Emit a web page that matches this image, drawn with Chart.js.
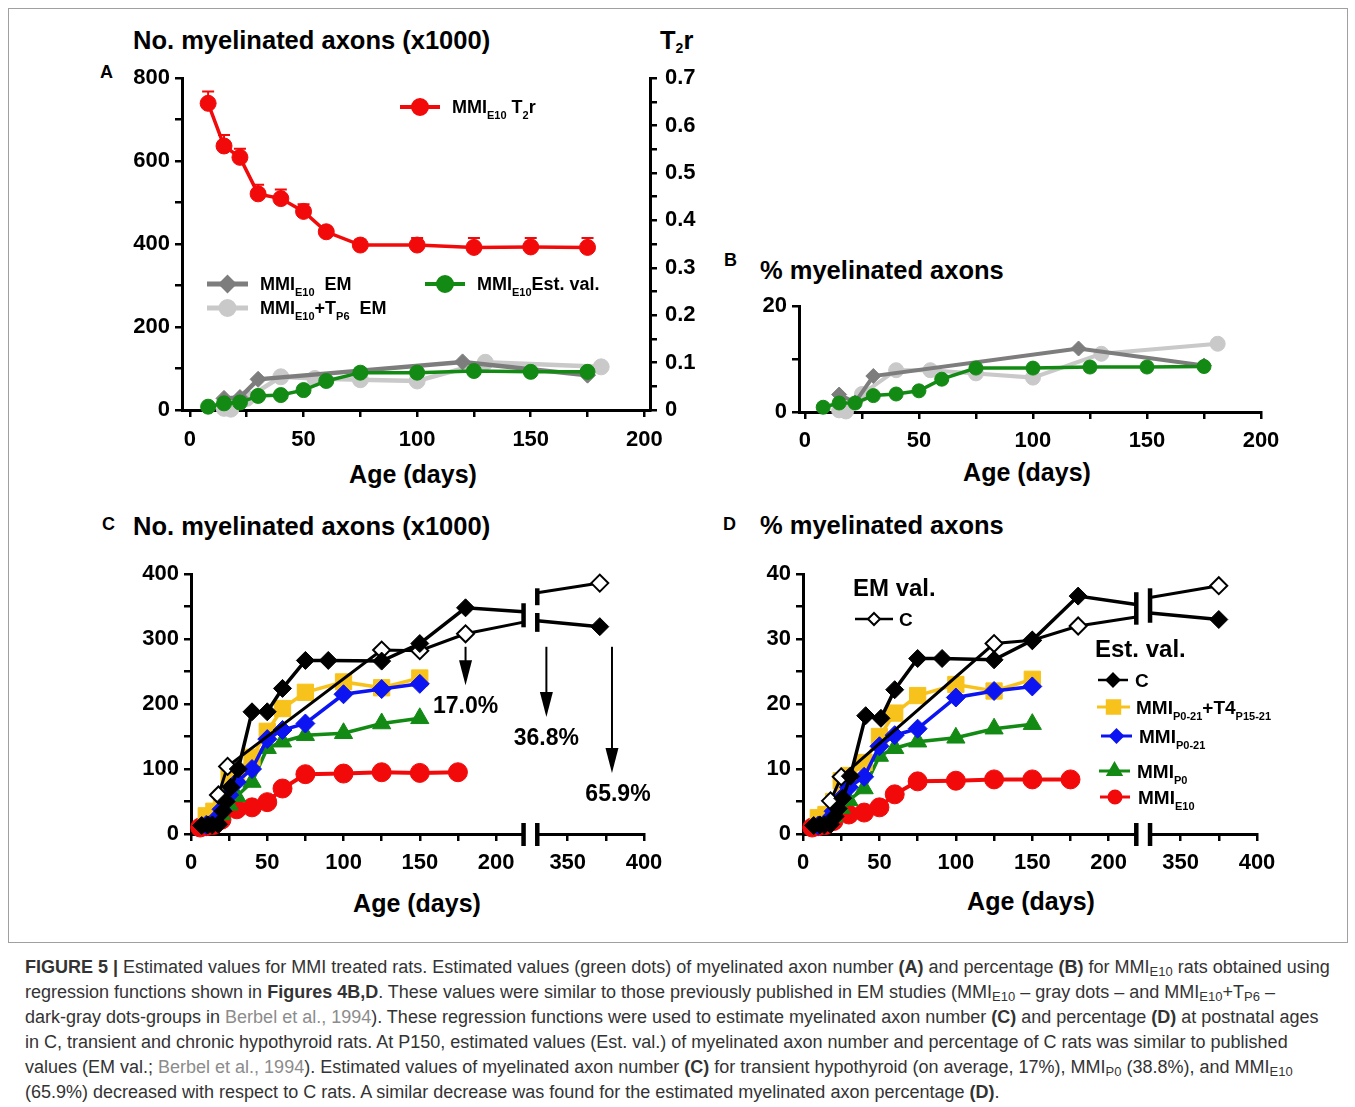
<!DOCTYPE html>
<html>
<head>
<meta charset="utf-8">
<script src="https://cdn.jsdelivr.net/npm/chart.js@4.4.1/dist/chart.umd.min.js"></script>
<style>
  body { margin: 0; background: #fff; width: 1355px; height: 1107px; position: relative; overflow: hidden;
         font-family: "Liberation Sans", Arial, Helvetica, sans-serif; color: #000; }
  .frame { position: absolute; left: 8px; top: 8px; width: 1338px; height: 933px; border: 1px solid #a0a0a0; }
  canvas { position: absolute; }
  .t { position: absolute; font-weight: bold; white-space: nowrap; }
  .ttl { font-size: 25.5px; line-height: 28px; }
  .ttl sub { font-size: 14px; vertical-align: -4px; line-height: 0; }
  .let { font-size: 18px; line-height: 20px; }
  .ax { font-size: 25px; line-height: 28px; width: 240px; text-align: center; }
  .cap { position: absolute; left: 25px; top: 955px; font-size: 18px; line-height: 25px; color: #333; white-space: nowrap; }
  .cap sub { font-size: 13px; vertical-align: -3px; line-height: 0; }
  .cap .g { color: #8c8c8c; }
</style>
</head>
<body>
<div class="frame"></div>

<div class="t let" style="left:100px;top:62px">A</div>
<div class="t ttl" style="left:133px;top:26px">No. myelinated axons (x1000)</div>
<div class="t ttl" style="left:660px;top:26px">T<sub>2</sub>r</div>
<div class="t ax" style="left:293px;top:460px">Age (days)</div>

<div class="t let" style="left:724px;top:250px">B</div>
<div class="t ttl" style="left:760px;top:256px">% myelinated axons</div>
<div class="t ax" style="left:907px;top:458px">Age (days)</div>

<div class="t let" style="left:102px;top:514px">C</div>
<div class="t ttl" style="left:133px;top:512px">No. myelinated axons (x1000)</div>
<div class="t ax" style="left:297px;top:889px">Age (days)</div>

<div class="t let" style="left:723px;top:514px">D</div>
<div class="t ttl" style="left:760px;top:511px">% myelinated axons</div>
<div class="t ax" style="left:911px;top:887px">Age (days)</div>

<canvas id="cA" width="620" height="443" style="left:100px;top:57px"></canvas>
<canvas id="cB" width="600" height="212" style="left:720px;top:288px"></canvas>
<canvas id="cC" width="600" height="360" style="left:100px;top:555px"></canvas>
<canvas id="cD" width="620" height="360" style="left:712px;top:555px"></canvas>

<div class="cap">
<div><b>FIGURE 5 |</b> Estimated values for MMI treated rats. Estimated values (green dots) of myelinated axon number <b>(A)</b> and percentage <b>(B)</b> for MMI<sub>E10</sub> rats obtained using</div>
<div>regression functions shown in <b>Figures 4B,D</b>. These values were similar to those previously published in EM studies (MMI<sub>E10</sub> – gray dots – and MMI<sub>E10</sub>+T<sub>P6</sub> –</div>
<div>dark-gray dots-groups in <span class="g">Berbel et al., 1994</span>). These regression functions were used to estimate myelinated axon number <b>(C)</b> and percentage <b>(D)</b> at postnatal ages</div>
<div>in C, transient and chronic hypothyroid rats. At P150, estimated values (Est. val.) of myelinated axon number and percentage of C rats was similar to published</div>
<div>values (EM val.; <span class="g">Berbel et al., 1994</span>). Estimated values of myelinated axon number <b>(C)</b> for transient hypothyroid (on average, 17%), MMI<sub>P0</sub> (38.8%), and MMI<sub>E10</sub></div>
<div>(65.9%) decreased with respect to C rats. A similar decrease was found for the estimated myelinated axon percentage <b>(D)</b>.</div>
</div>

<script>
// ---------- panel A : number of myelinated axons (x1000) and T2r ----------
const ageT2r = [8, 15, 22, 30, 40, 50, 60, 75, 100, 125, 150, 175];
const t2rE10 = [0.647, 0.557, 0.533, 0.456, 0.446, 0.419, 0.376, 0.348, 0.348, 0.343, 0.344, 0.343];
const t2rErr = [0.025, 0.023, 0.018, 0.019, 0.019, 0.015, 0.008, 0.011, 0.015, 0.02, 0.019, 0.02];

const ageEst = [8, 15, 22, 30, 40, 50, 60, 75, 100, 125, 150, 175];
const axonsEstE10 = [8, 16, 18, 34, 36, 48, 70, 90, 90, 94, 92, 92];

const ageEmE10 = [15, 22, 30, 120, 175];
const axonsEmE10 = [28, 30, 74, 116, 84];
const ageEmE10T = [15, 18, 25, 40, 55, 75, 100, 130, 181];
const axonsEmE10T = [4, 2, 28, 80, 76, 73, 70, 115, 104];

// ---------- panel B : % myelinated axons ----------
const pctEstE10 = [0.9, 1.7, 1.7, 3.1, 3.4, 4.0, 6.2, 8.3, 8.3, 8.5, 8.5, 8.6];
const pctEmE10 = [3.3, 1.8, 6.8, 12, 8.8];
const pctEmE10T = [0.3, 0.1, 3.4, 7.9, 7.9, 7.3, 6.5, 11, 12.9];

// ---------- panels C and D (broken age axis) ----------
const BREAK_LO = 218, BREAK_HI = 330, SHIFT = 103;
const toAxis = (a) => (a > BREAK_LO ? a - SHIFT : a);
const fromAxis = (v) => Math.round(v > BREAK_LO ? v + SHIFT : v);
const tickAgesCD = [0, 25, 50, 75, 100, 125, 150, 175, 200, 350, 375, 400];

// C est. val. (filled) and EM val. (open); the BREAK ages are where lines meet the break marks
const ageCtrlEstC = [7, 11, 14, 18, 21, 23, 26, 31, 40, 50, 60, 75, 90, 125, 150, 180, BREAK_LO, 224, BREAK_HI, 371];
const axonsCtrlEst = [13, 14, 14, 15, 35, 50, 72, 100, 188, 188, 224, 267, 267, 266, 293, 348, 342, null, 328, 319];
const ageCtrlEmC = [18, 24, 125, 150, 180, BREAK_LO, 224, BREAK_HI, 371];
const axonsCtrlEm = [60, 104, 283, 282, 308, 326, null, 371, 386];

const ageTreat = [10, 15, 20, 25, 30, 40, 50, 60, 75, 100, 125, 150];
const axonsP021T4 = [28, 35, 55, 88, 95, 118, 158, 193, 218, 234, 225, 240];
const axonsP021 = [14, 20, 38, 60, 80, 100, 146, 160, 170, 215, 223, 231];
const axonsP0 = [14, 20, 30, 45, 58, 80, 132, 142, 152, 155, 170, 178];
const ageE10CD = [6, 10, 15, 20, 30, 40, 50, 60, 75, 100, 125, 150, 175];
const axonsE10 = [10, 12, 14, 22, 38, 41, 49, 70, 92, 93, 95, 94, 95];

const ageCtrlEstD = [7, 11, 14, 18, 21, 23, 26, 31, 41, 51, 60, 75, 91, 125, 150, 180, BREAK_LO, 224, BREAK_HI, 375];
const pctCtrlEst = [1.3, 1.4, 1.4, 1.5, 2.7, 3.9, 5.5, 8.9, 18.2, 17.8, 22.2, 27, 27, 26.8, 29.8, 36.6, 35.3, null, 34.0, 33];
const ageCtrlEmD = [18, 25, 125, 150, 180, BREAK_LO, 224, BREAK_HI, 375];
const pctCtrlEm = [5.1, 8.8, 29.3, 29.8, 32, 33.4, null, 36.4, 38.2];
const pctP021T4 = [2.5, 3, 5, 8.2, 9, 11, 15, 18.6, 21.3, 23, 22, 23.8];
const pctP021 = [1.3, 1.8, 3.5, 5.5, 7.2, 8.8, 13.5, 15.2, 16.2, 21, 22, 22.7];
const pctP0 = [1.3, 1.8, 2.7, 4.0, 5.2, 7, 12, 13.2, 14.2, 14.8, 16.2, 16.9];
const pctE10 = [1.0, 1.2, 1.4, 2.0, 3.0, 3.3, 4.1, 6.1, 8.1, 8.2, 8.4, 8.4, 8.4];

// arrows and % decrease in C
const arrowsC = [{ age: 180, from: 288, to: 229 }, { age: 336, from: 288, to: 180 }, { age: 379, from: 288, to: 94 }];
const pctLabelsC = ["17.0%", "36.8%", "65.9%"];
const breaksC = [{ age: BREAK_LO, lo: 318, hi: 355 }, { age: BREAK_HI, lo: 352, hi: 378 }, { age: BREAK_HI, lo: 311, hi: 340 }];
const breaksD = [{ age: BREAK_LO, lo: 32.2, hi: 37.2 }, { age: BREAK_HI, lo: 32.5, hi: 37.8 }];

// ---------- look ----------
const FONT = '"Liberation Sans", Arial, Helvetica, sans-serif';
const RED = "#f20a0a", GREEN = "#138a13", DGRAY = "#7d7d7d", LGRAY = "#c9c9c9";
const YELLOW = "#f8c21c", BLUE = "#0c14f2", BLACK = "#000";
const tickFont = { family: FONT, size: 22, weight: "bold" };
const axisGrid = { drawOnChartArea: false, color: "#000", lineWidth: 2.5, tickLength: 7, tickWidth: 2.5 };
const axisBorder = { color: "#000", width: 3 };

const pts = (ages, vals, conv = (a) => a) => ages.map((a, i) => ({ x: conv(a), y: vals[i], age: a }));
const ticksAt = (values) => (s) => { s.ticks = values.map((v) => ({ value: v })); };
const range = (a, b, step) => { const r = []; for (let v = a; v <= b + 1e-9; v += step) r.push(v); return r; };

const axis = (extra, tickCb, pad) => Object.assign({
  type: "linear",
  grid: axisGrid,
  border: axisBorder,
  ticks: { font: tickFont, color: "#000", padding: pad, autoSkip: false, maxRotation: 0, callback: tickCb }
}, extra);

const series = (data, color, style, r, extra) => Object.assign({
  data: data,
  borderColor: color,
  backgroundColor: color,
  pointBackgroundColor: color,
  pointBorderColor: color,
  pointStyle: style,
  pointRadius: (c) => (c.raw && (c.raw.age === BREAK_LO || c.raw.age === BREAK_HI) ? 0 : r),
  pointBorderWidth: 1,
  borderWidth: 3.5,
  tension: 0,
  spanGaps: false,
  clip: false
}, extra);

const baseOptions = (padding, scales, plugins) => ({
  responsive: false,
  animation: false,
  events: [],
  layout: { padding: padding },
  plugins: Object.assign({ legend: { display: false }, tooltip: { enabled: false } }, plugins || {}),
  scales: scales
});

function marker(ctx, style, x, y, r, fill, stroke) {
  ctx.beginPath();
  if (style === "circle") {
    ctx.arc(x, y, r, 0, Math.PI * 2);
  } else if (style === "rectRot") {
    ctx.moveTo(x, y - r); ctx.lineTo(x + r, y); ctx.lineTo(x, y + r); ctx.lineTo(x - r, y); ctx.closePath();
  } else if (style === "rect") {
    const s = r * Math.SQRT1_2;
    ctx.rect(x - s, y - s, 2 * s, 2 * s);
  } else if (style === "triangle") {
    ctx.moveTo(x, y - r); ctx.lineTo(x + r * 0.87, y + r * 0.5); ctx.lineTo(x - r * 0.87, y + r * 0.5); ctx.closePath();
  }
  ctx.fillStyle = fill; ctx.fill();
  ctx.lineWidth = 2; ctx.strokeStyle = stroke; ctx.stroke();
}

function richText(ctx, x, y, parts, size, sub) {
  ctx.textAlign = "left"; ctx.textBaseline = "alphabetic"; ctx.fillStyle = "#000";
  parts.forEach(([t, isSub]) => {
    ctx.font = "bold " + (isSub ? sub : size) + "px " + FONT;
    ctx.fillText(t, x, isSub ? y + size * 0.3 : y);
    x += ctx.measureText(t).width;
  });
}

// legend drawn on the canvas; items are in page pixels, ox/oy = canvas origin
const legendPlugin = (ox, oy, items, heads) => ({
  id: "lg",
  afterDraw(chart) {
    const ctx = chart.ctx;
    ctx.save();
    ctx.translate(-ox, -oy);
    items.forEach((it) => {
      ctx.strokeStyle = it.color; ctx.lineWidth = it.lw;
      ctx.beginPath(); ctx.moveTo(it.x0, it.y); ctx.lineTo(it.x1, it.y); ctx.stroke();
      marker(ctx, it.style, (it.x0 + it.x1) / 2, it.y, it.r, it.fill || it.color, it.color);
      richText(ctx, it.tx, it.y + it.size * 0.36, it.parts, it.size, it.sub);
    });
    (heads || []).forEach((h) => {
      ctx.font = "bold " + h.size + "px " + FONT; ctx.fillStyle = "#000";
      ctx.textAlign = "left"; ctx.textBaseline = "middle";
      ctx.fillText(h.text, h.x, h.y);
    });
    ctx.restore();
  }
});

const errPlugin = {
  id: "err",
  beforeDatasetsDraw(chart) {
    const { ctx, scales } = chart;
    ctx.save(); ctx.strokeStyle = RED; ctx.lineWidth = 2;
    ageT2r.forEach((a, i) => {
      const px = scales.x.getPixelForValue(a);
      const py = scales.y1.getPixelForValue(t2rE10[i]);
      const pt = scales.y1.getPixelForValue(t2rE10[i] + t2rErr[i]);
      ctx.beginPath(); ctx.moveTo(px, py); ctx.lineTo(px, pt);
      ctx.moveTo(px - 6, pt); ctx.lineTo(px + 6, pt); ctx.stroke();
    });
    ctx.restore();
  }
};

// axis break and break marks on the C lines
const breakPlugin = (bars) => ({
  id: "brk",
  afterDraw(chart) {
    const { ctx, scales, chartArea } = chart;
    const yb = chartArea.bottom;
    const xl = scales.x.getPixelForValue(toAxis(BREAK_LO));
    const xr = scales.x.getPixelForValue(toAxis(BREAK_HI));
    ctx.save();
    ctx.fillStyle = "#fff";
    ctx.fillRect(xl, yb - 3, xr - xl, 6);
    ctx.fillStyle = "#000";
    [xl, xr].forEach((px) => ctx.fillRect(px - 2.2, yb - 11, 4.5, 23));
    bars.forEach((b) => {
      const px = scales.x.getPixelForValue(toAxis(b.age));
      const y0 = scales.y.getPixelForValue(b.hi), y1 = scales.y.getPixelForValue(b.lo);
      ctx.fillRect(px - 2.2, y0, 4.5, y1 - y0);
    });
    ctx.restore();
  }
});

const arrowPlugin = {
  id: "arw",
  afterDatasetsDraw(chart) {
    const { ctx, scales } = chart;
    ctx.save(); ctx.strokeStyle = "#000"; ctx.fillStyle = "#000"; ctx.lineWidth = 2;
    arrowsC.forEach((a, i) => {
      const px = scales.x.getPixelForValue(toAxis(a.age));
      const p0 = scales.y.getPixelForValue(a.from), p1 = scales.y.getPixelForValue(a.to);
      ctx.beginPath(); ctx.moveTo(px, p0); ctx.lineTo(px, p1 - 20); ctx.stroke();
      ctx.beginPath(); ctx.moveTo(px - 6.5, p1 - 25); ctx.lineTo(px + 6.5, p1 - 25); ctx.lineTo(px, p1); ctx.closePath(); ctx.fill();
      ctx.font = "bold 23px " + FONT; ctx.textAlign = "center"; ctx.textBaseline = "middle";
      ctx.fillText(pctLabelsC[i], px + (i === 2 ? 6 : 0), p1 + 22);
    });
    ctx.restore();
  }
};

const fixW = (w) => (s) => { s.width = w; };
const fixH = (h) => (s) => { s.height = h; };
const lab = (every) => function (v) { const r = Math.round(v); return r % every === 0 ? String(r) : ""; };
const labCD = function (v) { const a = fromAxis(v); return a % 50 === 0 ? String(a) : ""; };

// ---------- chart A ----------
new Chart(document.getElementById("cA"), {
  type: "line",
  data: {
    datasets: [
      series(pts(ageT2r, t2rE10), RED, "circle", 8, { yAxisID: "y1", borderWidth: 3.5 }),
      series(pts(ageEst, axonsEstE10), GREEN, "circle", 7.5, { yAxisID: "y" }),
      series(pts(ageEmE10, axonsEmE10), DGRAY, "rectRot", 8, { yAxisID: "y", borderWidth: 4.5 }),
      series(pts(ageEmE10T, axonsEmE10T), LGRAY, "circle", 8, { yAxisID: "y", borderWidth: 4.5 })
    ]
  },
  options: baseOptions({ top: 14, right: 0, left: 0, bottom: 0 }, {
    x: axis({ min: -3.5, max: 202.5, afterBuildTicks: ticksAt(range(0, 200, 25)), afterFit: fixH(90) }, lab(50), 10),
    y: axis({ position: "left", min: 0, max: 800, afterBuildTicks: ticksAt(range(0, 800, 100)), afterFit: fixW(82) }, lab(200), 5),
    y1: axis({ position: "right", min: 0, max: 0.7, afterBuildTicks: ticksAt(range(0, 0.7, 0.05)), afterFit: fixW(70) },
      function (v) { const k = Math.round(v * 20); return k === 0 ? "0" : (k % 2 === 0 ? (k / 20).toFixed(1) : ""); }, 8)
  }),
  plugins: [errPlugin, legendPlugin(100, 57, [
    { x0: 400, x1: 440, y: 107, color: RED, lw: 4, style: "circle", r: 8, tx: 452, size: 18, sub: 11,
      parts: [["MMI"], ["E10", 1], [" T"], ["2", 1], ["r"]] },
    { x0: 207, x1: 248, y: 284, color: DGRAY, lw: 5, style: "rectRot", r: 8, tx: 260, size: 18, sub: 11,
      parts: [["MMI"], ["E10", 1], ["  EM"]] },
    { x0: 207, x1: 248, y: 308, color: LGRAY, lw: 5, style: "circle", r: 8, tx: 260, size: 18, sub: 11,
      parts: [["MMI"], ["E10", 1], ["+T"], ["P6", 1], ["  EM"]] },
    { x0: 425, x1: 465, y: 284, color: GREEN, lw: 4, style: "circle", r: 8, tx: 477, size: 18, sub: 11,
      parts: [["MMI"], ["E10", 1], ["Est. val."]] }
  ])]
});

// ---------- chart B ----------
new Chart(document.getElementById("cB"), {
  type: "line",
  data: {
    datasets: [
      series(pts(ageEst, pctEstE10), GREEN, "circle", 7),
      series(pts(ageEmE10, pctEmE10), DGRAY, "rectRot", 7.5, { borderWidth: 4 }),
      series(pts(ageEmE10T, pctEmE10T), LGRAY, "circle", 7.5, { borderWidth: 4 })
    ]
  },
  options: baseOptions({ top: 14, right: 59, left: 0, bottom: 0 }, {
    x: axis({ min: -2.6, max: 200, afterBuildTicks: ticksAt(range(0, 200, 25)), afterFit: fixH(88) }, lab(50), 9),
    y: axis({ position: "left", min: 0, max: 20, afterBuildTicks: ticksAt([0, 10, 20]), afterFit: fixW(79) }, lab(20), 5)
  })
});

// ---------- chart C ----------
const xCD = (extraH) => axis({ min: 0, max: 297, afterBuildTicks: ticksAt(tickAgesCD.map(toAxis)), afterFit: fixH(extraH) }, labCD, 9);

new Chart(document.getElementById("cC"), {
  type: "line",
  data: {
    datasets: [
      series(pts(ageCtrlEstC, axonsCtrlEst, toAxis), BLACK, "rectRot", 9, { borderWidth: 3.5 }),
      series(pts(ageCtrlEmC, axonsCtrlEm, toAxis), BLACK, "rectRot", 8.5,
        { borderWidth: 3, pointBackgroundColor: "#fff", pointBorderWidth: 2 }),
      series(pts(ageTreat, axonsP021, toAxis), BLUE, "rectRot", 9.5),
      series(pts(ageTreat, axonsP021T4, toAxis), YELLOW, "rect", 11.5),
      series(pts(ageTreat, axonsP0, toAxis), GREEN, "triangle", 10.5),
      series(pts(ageE10CD, axonsE10, toAxis), RED, "circle", 9.5, { borderWidth: 4 })
    ]
  },
  options: baseOptions({ top: 19, right: 56, left: 0, bottom: 0 }, {
    x: xCD(81),
    y: axis({ position: "left", min: 0, max: 400, afterBuildTicks: ticksAt(range(0, 400, 50)), afterFit: fixW(91) }, lab(100), 5)
  }),
  plugins: [breakPlugin(breaksC), arrowPlugin]
});

// ---------- chart D ----------
new Chart(document.getElementById("cD"), {
  type: "line",
  data: {
    datasets: [
      series(pts(ageCtrlEstD, pctCtrlEst, toAxis), BLACK, "rectRot", 9, { borderWidth: 3.5 }),
      series(pts(ageCtrlEmD, pctCtrlEm, toAxis), BLACK, "rectRot", 8.5,
        { borderWidth: 3, pointBackgroundColor: "#fff", pointBorderWidth: 2 }),
      series(pts(ageTreat, pctP021, toAxis), BLUE, "rectRot", 9.5),
      series(pts(ageTreat, pctP021T4, toAxis), YELLOW, "rect", 11.5),
      series(pts(ageTreat, pctP0, toAxis), GREEN, "triangle", 10.5),
      series(pts(ageE10CD, pctE10, toAxis), RED, "circle", 9.5, { borderWidth: 4 })
    ]
  },
  options: baseOptions({ top: 19, right: 75, left: 0, bottom: 0 }, {
    x: xCD(81),
    y: axis({ position: "left", min: 0, max: 40, afterBuildTicks: ticksAt(range(0, 40, 5)), afterFit: fixW(91) }, lab(10), 5)
  }),
  plugins: [breakPlugin(breaksD), legendPlugin(712, 555, [
    { x0: 855, x1: 893, y: 619, color: BLACK, fill: "#fff", lw: 2.5, style: "rectRot", r: 6, tx: 899, size: 19, sub: 11, parts: [["C"]] },
    { x0: 1098, x1: 1128, y: 680, color: BLACK, lw: 2.5, style: "rectRot", r: 6.5, tx: 1135, size: 19, sub: 11, parts: [["C"]] },
    { x0: 1097, x1: 1130, y: 707, color: YELLOW, lw: 3, style: "rect", r: 9.5, tx: 1136, size: 19, sub: 11,
      parts: [["MMI"], ["P0-21", 1], ["+T4"], ["P15-21", 1]] },
    { x0: 1101, x1: 1132, y: 736, color: BLUE, lw: 3, style: "rectRot", r: 6.5, tx: 1139, size: 19, sub: 11,
      parts: [["MMI"], ["P0-21", 1]] },
    { x0: 1099, x1: 1130, y: 771, color: GREEN, lw: 3, style: "triangle", r: 8, tx: 1137, size: 19, sub: 11,
      parts: [["MMI"], ["P0", 1]] },
    { x0: 1100, x1: 1130, y: 797, color: RED, lw: 3, style: "circle", r: 6.5, tx: 1138, size: 19, sub: 11,
      parts: [["MMI"], ["E10", 1]] }
  ], [
    { text: "EM val.", x: 853, y: 589, size: 24 },
    { text: "Est. val.", x: 1095, y: 650, size: 24 }
  ])]
});
</script>
</body>
</html>
